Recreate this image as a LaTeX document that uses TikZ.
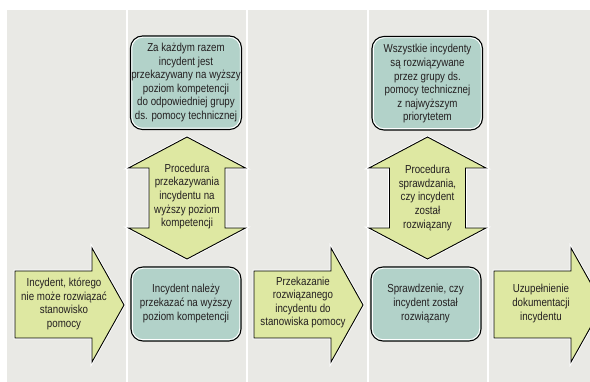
\documentclass[tikz,border=0pt]{standalone}
\usepackage{fontspec}
\setmainfont{Liberation Sans}[FakeStretch=0.84]
\definecolor{panelgray}{RGB}{233,233,229}
\definecolor{boxteal}{RGB}{178,210,201}
\definecolor{arrowgreen}{RGB}{222,232,162}
\definecolor{textdark}{RGB}{35,31,32}
\tikzset{
  panel/.style={fill=panelgray, draw=none},
  arrowshape/.style={fill=arrowgreen, draw=black, line width=0.9pt, line join=miter,
    preaction={draw=white, line width=2.6pt}},
  tealbox/.style={fill=boxteal, draw=black, line width=1.1pt, rounded corners=12pt},
  innerline/.style={draw=white, line width=0.9pt, rounded corners=10.8pt},
  txt/.style={align=center, font=\fontsize{11.6}{13.6}\selectfont, text=textdark, inner sep=0pt},
}
\begin{document}
\begin{tikzpicture}[x=1pt,y=-1pt]
  \useasboundingbox (0,0) rectangle (590,382);
  \clip (0,0) rectangle (590,382);
  \fill[white] (0,0) rectangle (590,382);

  % five columns
  \foreach \c in {0,...,4}
    \fill[panel] ({7+120.5*\c},10) rectangle ({125.5+120.5*\c},382);

  % horizontal process arrows
  \draw[arrowshape] (15,271) -- (92,271) -- (92,248) -- (124,305) -- (92,362) -- (92,338) -- (15,338) -- cycle;
  \draw[arrowshape] (254,271) -- (331,271) -- (331,248) -- (363,305) -- (331,362) -- (331,338) -- (254,338) -- cycle;
  \draw[arrowshape] (494,271) -- (571,271) -- (571,248) -- (603,305) -- (571,362) -- (571,338) -- (494,338) -- cycle;

  % vertical two-headed arrows
  \foreach \cx in {187,427.5}
    \draw[arrowshape] (\cx,137) -- ({\cx+58.5},168) -- ({\cx+38},168) -- ({\cx+38},228)
      -- ({\cx+58.5},228) -- (\cx,259) -- ({\cx-58.5},228) -- ({\cx-38},228)
      -- ({\cx-38},168) -- ({\cx-58.5},168) -- cycle;

  % rounded boxes
  \draw[tealbox] (130.5,36) rectangle (241.5,129.5);
  \draw[innerline] (131.8,37.3) rectangle (240.2,128.2);
  \draw[tealbox] (372,36.5) rectangle (482.5,130);
  \draw[innerline] (373.3,37.8) rectangle (481.2,128.7);
  \draw[tealbox] (131,267) rectangle (241,341);
  \draw[innerline] (132.3,268.3) rectangle (239.7,339.7);
  \draw[tealbox] (371,267) rectangle (481,341);
  \draw[innerline] (372.3,268.3) rectangle (479.7,339.7);

  % texts
  \node[txt] (start) at (64,304) {Incydent, którego\\nie może rozwiązać\\stanowisko\\pomocy};
  \node[txt] (escalate) at (186,82.5) {Za każdym razem\\incydent jest\\przekazywany na wyższy\\poziom kompetencji\\do odpowiedniej grupy\\ds. pomocy technicznej};
  \node[txt] (escproc) at (187,196.5) {Procedura\\przekazywania\\incydentu na\\wyższy poziom\\kompetencji};
  \node[txt] (escneed) at (186,303.5) {Incydent należy\\przekazać na wyższy\\poziom kompetencji};
  \node[txt] (handback) at (303,302.5) {Przekazanie\\rozwiązanego\\incydentu do\\stanowiska pomocy};
  \node[txt] (resolveall) at (427.5,84) {Wszystkie incydenty\\są rozwiązywane\\przez grupy ds.\\pomocy technicznej\\z najwyższym\\priorytetem};
  \node[txt] (checkproc) at (427.5,198) {Procedura\\sprawdzania,\\czy incydent\\został\\rozwiązany};
  \node[txt] (check) at (425.5,303.5) {Sprawdzenie, czy\\incydent został\\rozwiązany};
  \node[txt] (document) at (541,303.5) {Uzupełnienie\\dokumentacji\\incydentu};
\end{tikzpicture}
\end{document}
